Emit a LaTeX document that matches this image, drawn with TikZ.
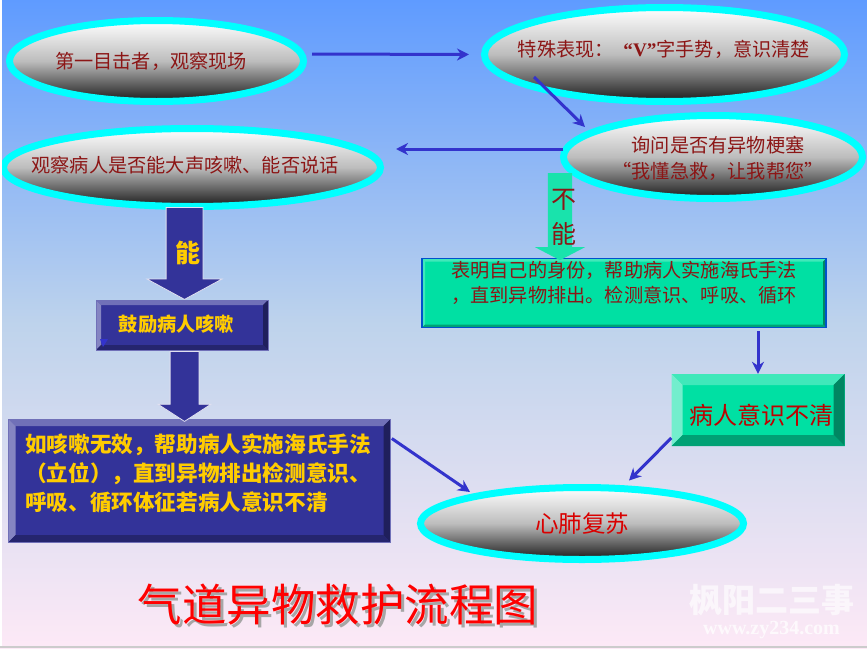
\documentclass[tikz,border=0pt]{standalone}
\usepackage{fontspec}
\setmainfont{Noto Sans CJK SC}
\newfontfamily\latinfont{Liberation Serif}
\usetikzlibrary{arrows.meta,calc,shapes.geometric,shapes.arrows}

\definecolor{skytop}{RGB}{95,155,255}
\definecolor{skymid}{RGB}{190,211,236}
\definecolor{skylow}{RGB}{253,233,246}
\definecolor{navyface}{RGB}{51,51,153}
\definecolor{flowblue}{RGB}{51,51,204}
\definecolor{mintface}{RGB}{0,224,163}
\definecolor{brickred}{RGB}{140,22,22}
\definecolor{goldtext}{RGB}{255,204,0}
\definecolor{ovalrim}{RGB}{0,255,255}

\newcommand{\shadowed}[1]{\rlap{\kern3pt\raisebox{-3pt}{\textcolor{black!35}{#1}}}\textcolor{red}{#1}}

\tikzset{
	oval/.style={ellipse, draw=ovalrim, inner sep=0pt, top color=white, bottom color=black!90, middle color=black!26},
	ovaltext/.style={text=brickred, font=\fontsize{19.2}{26}\selectfont, align=center, inner sep=0pt},
	bevelbox/.style n args={5}{rectangle, inner sep=0pt, fill=#2,
		path picture={
			\coordinate (nw) at (path picture bounding box.north west);
			\coordinate (ne) at (path picture bounding box.north east);
			\coordinate (sw) at (path picture bounding box.south west);
			\coordinate (se) at (path picture bounding box.south east);
			\fill[#3] (nw) -- (ne) -- ($(ne)+(-#1,#1)$) -- ($(nw)+(#1,#1)$) -- cycle;
			\fill[#4] (nw) -- (sw) -- ($(sw)+(#1,-#1)$) -- ($(nw)+(#1,#1)$) -- cycle;
			\fill[#5] (ne) -- (se) -- ($(se)+(-#1,-#1)$) -- ($(ne)+(-#1,#1)$) -- cycle;
			\fill[#5!70!#2] (sw) -- (se) -- ($(se)+(-#1,-#1)$) -- ($(sw)+(#1,-#1)$) -- cycle;
		}},
	navybox/.style={bevelbox={#1}{navyface}{navyface!70!white}{navyface!60!white}{navyface!60!black}, draw=navyface!70!white, line width=.6pt},
	mintbox/.style={bevelbox={#1}{mintface}{mintface!75!white}{mintface!55!white}{mintface!60!black}},
	goldtext/.style={text=goldtext, font=\bfseries\fontsize{21.6}{29}\selectfont, align=left, inner sep=0pt},
	blockarrow/.style={single arrow, shape border rotate=270, anchor=tail, single arrow head indent=0pt},
	flowarrow/.style={draw=flowblue, line width=3pt, -{Stealth[length=12pt,width=12pt]}},
}

\begin{document}
\begin{tikzpicture}[x=1pt, y=-1pt]
	\useasboundingbox (0,0) rectangle (867,648);
	\shade[top color=skytop, bottom color=skylow, middle color=skymid] (0,0) rectangle (867,648);

	% ovals
	\node[oval, line width=7pt, minimum width=294pt, minimum height=81pt] (witness) at (156.5,61) {};
	\node[oval, line width=7pt, minimum width=360pt, minimum height=94pt] (signs) at (664.5,54.5) {};
	\node[oval, line width=7pt, minimum width=299pt, minimum height=83pt] (ask) at (713,157) {};
	\node[oval, line width=7pt, minimum width=377pt, minimum height=78pt] (observe) at (192,167.5) {};
	\node[oval, line width=7pt, minimum width=323pt, minimum height=72pt] (cpr) at (582,523.5) {};

	% boxes
	\node[navybox=5, minimum width=172pt, minimum height=50pt] (encourage) at (182,325) {};
	\node[navybox=7, minimum width=382pt, minimum height=123pt] (abdominal) at (199.5,480.5) {};
	\node[mintbox=11, minimum width=173pt, minimum height=72pt] (unclear) at (758,410) {};
	\node[bevelbox={3}{mintface}{mintface!75!white}{mintface!75!white}{mintface!60!black}, minimum width=404pt, minimum height=69pt, draw=blue!60!cyan!80!black, line width=1.4pt] (identify) at (624,293) {};
	\fill[flowblue] (100,339) -- (108,339) -- (103,347) -- cycle;

	% block arrows
	\node[blockarrow, fill=navyface, draw=white!85!navyface, line width=.8pt, inner sep=18pt, minimum height=92pt, single arrow head extend=19pt, single arrow tip angle=123] (cancough) at (184.5,207) {};
	\node[blockarrow, fill=navyface, draw=white!85!navyface, line width=.8pt, inner sep=14pt, minimum height=70pt, single arrow head extend=12pt, single arrow tip angle=114] (next) at (184.5,351) {};
	\node[blockarrow, fill=mintface!90!white, inner sep=12pt, minimum height=87pt, single arrow head extend=13pt, single arrow tip angle=125] (cannot) at (560,173) {};

	% connectors
	\draw[flowarrow] ($(witness)+(155.5,-7)$) -- ($(signs)+(-195.5,0)$);
	\draw[flowarrow] ($(signs)+(-130.5,22.5)$) -- ($(ask)+(-128,-30)$);
	\draw[flowarrow] ($(ask)+(-150,-8)$) -- ($(observe)+(204,-18.5)$);
	\draw[flowarrow] ($(identify.south)+(134,3)$) -- ($(unclear.north)$);
	\draw[flowarrow] ($(unclear.west)+(0,28)$) -- ($(cpr)+(47,-43)$);
	\draw[flowarrow] ($(abdominal.east)+(1,-42)$) -- ($(cpr)+(-112,-31.5)$);

	% texts
	\node[ovaltext] (witnesstext) at (151,61) {第一目击者，观察现场};
	\node[ovaltext] (signstext) at (664,49) {特殊表现：{\latinfont\bfseries\ \ “V”}字手势，意识清楚};
	\node[ovaltext] (asktext) at (718,158) {询问是否有异物梗塞\\“我懂急救，让我帮您”};
	\node[ovaltext] (observetext) at (185,165) {观察病人是否能大声咳嗽、能否说话};
	\node[ovaltext, text=red!85!black, font=\fontsize{23.5}{28}\selectfont] (cprtext) at (582,524) {心肺复苏};
	\node[goldtext, font=\bfseries\fontsize{19.2}{24}\selectfont] (encouragetext) at (176.5,324) {鼓励病人咳嗽};
	\node[goldtext, font=\bfseries\fontsize{25}{30}\selectfont] (cancoughtext) at (188,253) {能};
	\node[ovaltext, font=\fontsize{25}{35}\selectfont] (cannottext) at (564,217) {不\\能};
	\node[goldtext, anchor=west] (abdominaltext) at (25,473) {如咳嗽无效，帮助病人实施海氏手法\\（立位），直到异物排出检测意识、\\呼吸、循环体征若病人意识不清};
	\node[ovaltext, anchor=west, font=\fontsize{19.2}{25}\selectfont, align=left] (identifytext) at (451,282.5) {表明自己的身份，帮助病人实施海氏手法\\，直到异物排出。检测意识、呼吸、循环};
	\node[ovaltext, text=red!75!black, font=\fontsize{24}{28}\selectfont] (uncleartext) at (761,415) {病人意识不清};

	% title and mark
	\node[font=\fontsize{44.5}{50}\selectfont, inner sep=0pt] (title) at (338,606) {\shadowed{气道异物救护流程图}};
	\node[text=white, opacity=.65, font=\bfseries\fontsize{33}{36}\selectfont, inner sep=0pt] (mark) at (772,600) {枫阳二三事};
	\node[text=white, opacity=.75, font=\latinfont\bfseries\fontsize{20}{22}\selectfont, inner sep=0pt] (markurl) at (771.5,630) {www.zy234.com};

	% page edges
	\fill[white] (0,0) rectangle (2,648);
	\fill[black!20] (0,646) rectangle (867,648);
\end{tikzpicture}
\end{document}
